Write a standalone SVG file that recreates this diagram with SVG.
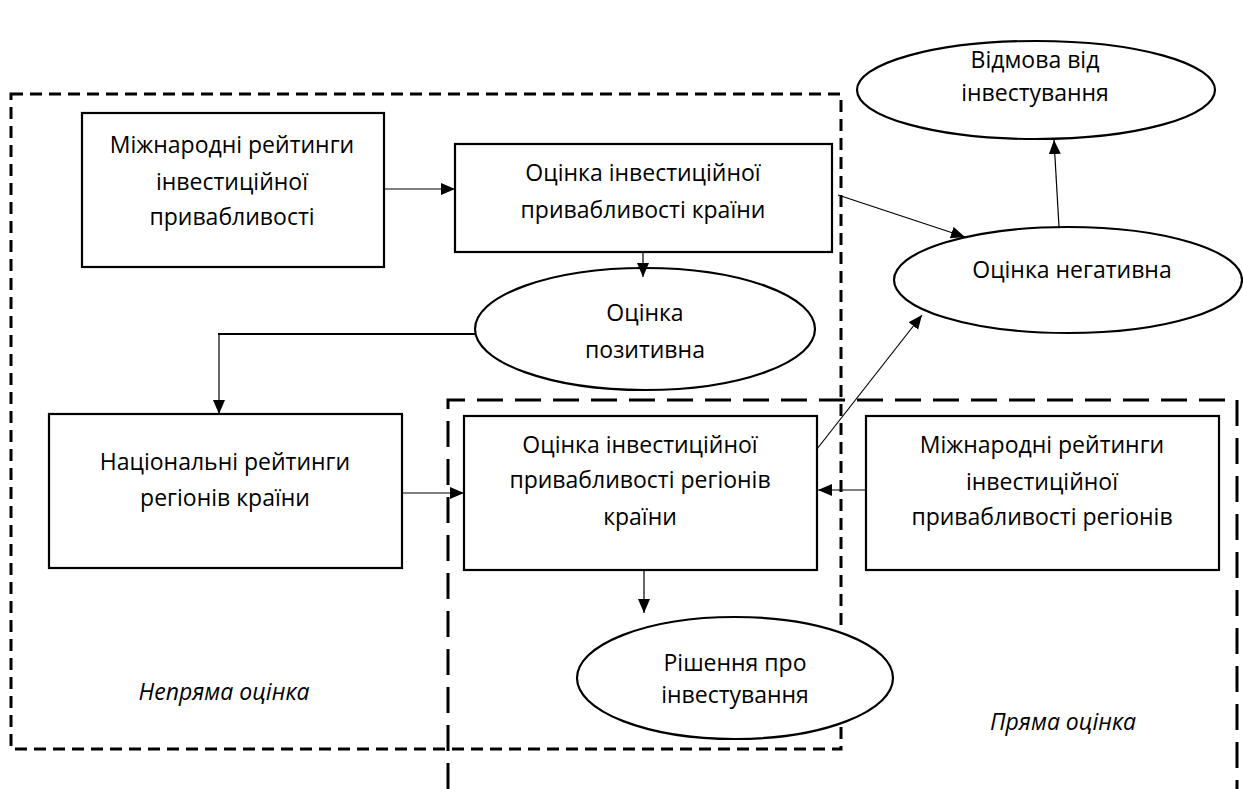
<svg xmlns="http://www.w3.org/2000/svg" width="1243" height="789" viewBox="0 0 1243 789">
<style>
text{font-family:"Open Sans","Noto Sans","Liberation Sans",sans-serif;font-size:23px;fill:#000;text-anchor:middle}
.it{font-style:italic}
.node{fill:#fff;stroke:#000;stroke-width:2.2}
.con{stroke:#000;stroke-width:1.2;fill:none}
.thick{stroke-width:2}
.d1{fill:none;stroke:#000;stroke-width:3;stroke-dasharray:12 7}
.d2{fill:none;stroke:#000;stroke-width:3;stroke-dasharray:26 12}
</style>
<defs>
<marker id="ah" markerUnits="userSpaceOnUse" markerWidth="15" markerHeight="14" refX="14" refY="6" orient="auto">
<path d="M0,0 L14,6 L0,12 z" fill="#000"/>
</marker>
</defs>
<rect width="1243" height="789" fill="#fff"/>
<g id="zones">
<rect class="d1" x="11" y="94" width="830" height="655"/>
<path class="d2" d="M448,789 L448,400 L1237,400 L1237,789"/>
</g>
<g id="n1">
<rect class="node" x="82" y="113" width="302" height="154"/>
<text x="232" y="153">Міжнародні рейтинги</text>
<text x="232" y="190">інвестиційної</text>
<text x="232" y="225">привабливості</text>
</g>
<g id="n2">
<rect class="node" x="455" y="144" width="377" height="108"/>
<text x="643" y="181">Оцінка інвестиційної</text>
<text x="643" y="218">привабливості країни</text>
</g>
<g id="n3">
<ellipse class="node" cx="645" cy="329" rx="170" ry="61"/>
<text x="645" y="321">Оцінка</text>
<text x="645" y="358">позитивна</text>
</g>
<g id="n4">
<rect class="node" x="49" y="414" width="353" height="154"/>
<text x="225" y="470">Національні рейтинги</text>
<text x="225" y="506">регіонів країни</text>
</g>
<g id="n5">
<rect class="node" x="464" y="416" width="353" height="154"/>
<text x="640" y="453">Оцінка інвестиційної</text>
<text x="640" y="488">привабливості регіонів</text>
<text x="640" y="525">країни</text>
</g>
<g id="n6">
<rect class="node" x="866" y="416" width="353" height="154"/>
<text x="1042" y="453">Міжнародні рейтинги</text>
<text x="1042" y="490">інвестиційної</text>
<text x="1042" y="525">привабливості регіонів</text>
</g>
<g id="n7">
<ellipse class="node" cx="735" cy="678" rx="158" ry="61"/>
<text x="735" y="671">Рішення про</text>
<text x="735" y="703">інвестування</text>
</g>
<g id="n8">
<ellipse class="node" cx="1068" cy="280" rx="174" ry="53"/>
<text x="1072" y="278">Оцінка негативна</text>
</g>
<g id="n9">
<ellipse class="node" cx="1036" cy="90" rx="179" ry="49"/>
<text x="1035" y="68">Відмова від</text>
<text x="1035" y="101">інвестування</text>
</g>
<g id="connectors">
<line class="con" x1="384" y1="189" x2="455" y2="189" marker-end="url(#ah)"/>
<line class="con" x1="643" y1="252" x2="643" y2="277" marker-end="url(#ah)"/>
<polyline class="con thick" points="475,334 218,334"/>
<line class="con" x1="219" y1="334" x2="219" y2="414" marker-end="url(#ah)"/>
<line class="con" x1="402" y1="493" x2="464" y2="493" marker-end="url(#ah)"/>
<line class="con" x1="866" y1="490" x2="818" y2="490" marker-end="url(#ah)"/>
<line class="con" x1="644" y1="570" x2="644" y2="613" marker-end="url(#ah)"/>
<line class="con" x1="817" y1="449" x2="922" y2="315" marker-end="url(#ah)"/>
<line class="con" x1="838" y1="195" x2="965" y2="237" marker-end="url(#ah)"/>
<line class="con" x1="1059" y1="227" x2="1054" y2="140" marker-end="url(#ah)"/>
</g>
<g id="labels">
<text class="it" x="224" y="700">Непряма оцінка</text>
<text class="it" x="1063" y="730">Пряма оцінка</text>
</g>
</svg>
